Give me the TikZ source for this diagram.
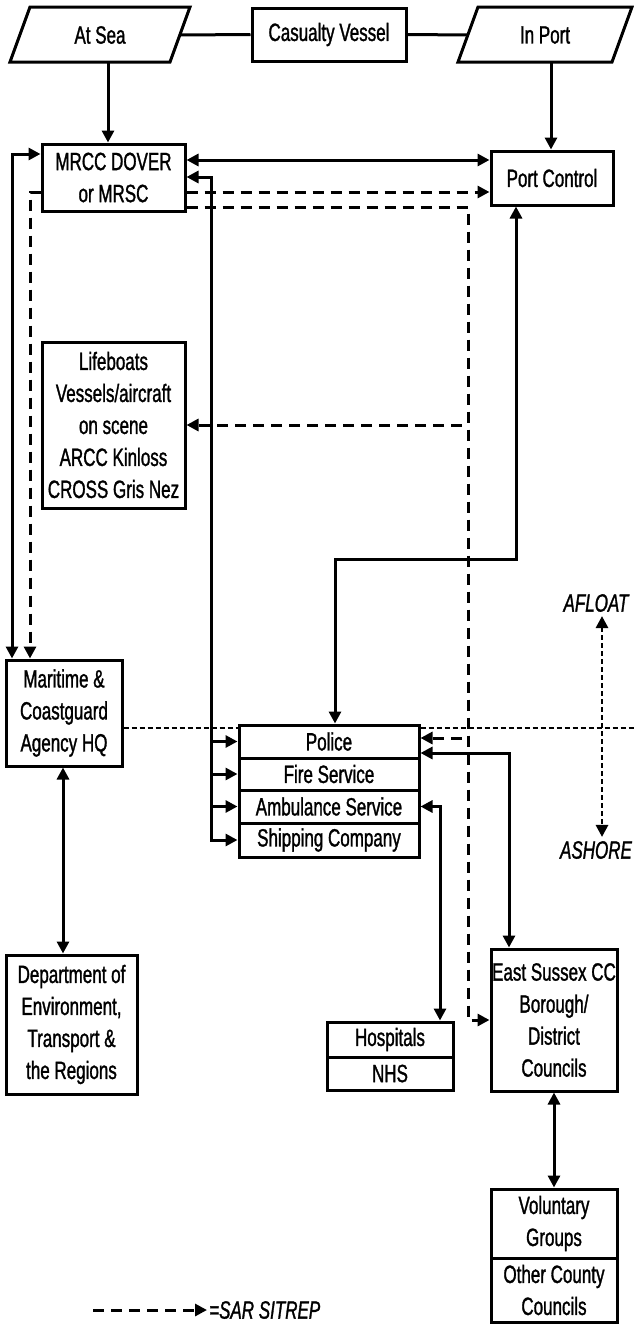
\documentclass[tikz,border=0pt]{standalone}
\usepackage{fontspec}
\setmainfont{Liberation Sans}[FakeStretch=0.68, FakeBold=1.2]
\usetikzlibrary{arrows.meta,calc}
\tikzset{
  Tri/.tip={Triangle[length=12pt,width=12pt]},
  box/.style={draw, line width=3pt, inner sep=0pt, align=center,
    font={\fontsize{25}{32}\selectfont}},
  lbl/.style={inner sep=0pt, align=center, font={\fontsize{25}{32}\selectfont}},
  conn/.style={line width=3pt},
  dsh/.style={line width=3pt, dash pattern=on 11pt off 7pt},
  dotl/.style={line width=2.8pt, dash pattern=on 5pt off 3pt},
}
\begin{document}
\begin{tikzpicture}[x=1pt,y=-1pt]
\useasboundingbox (0,0) rectangle (634,1325);
% parallelograms
\draw[line width=3pt] (30,7) -- (190,7) -- (170,62) -- (10,62) -- cycle;
\draw[line width=3pt] (478,7) -- (632,7) -- (612,62) -- (458,62) -- cycle;
\node[lbl] (atsea) at (100,35) {At Sea};
\node[lbl] (inport) at (545,35) {In Port};
\coordinate (atseaR) at (180,35);
\coordinate (inportL) at (468,35);
\coordinate (atseaB) at (108,62);
\coordinate (inportB) at (551,62);
% boxes
\node[box, minimum width=154pt, minimum height=53pt] (casualty) at (329,34.5) {Casualty Vessel};
\node[box, minimum width=143pt, minimum height=67pt] (mrcc) at (113.5,177.5) {MRCC DOVER\\or MRSC};
\node[box, minimum width=122pt, minimum height=54pt] (port) at (552,178) {Port Control};
\node[box, minimum width=143pt, minimum height=166pt] (life) at (113.5,425) {Lifeboats\\Vessels/aircraft\\on scene\\ARCC Kinloss\\CROSS Gris Nez};
\node[box, minimum width=116pt, minimum height=106pt] (mca) at (64,713) {Maritime \&\\Coastguard\\Agency HQ};
\node[box, minimum width=131pt, minimum height=139pt] (dept) at (71.5,1024.5) {Department of\\Environment,\\Transport \&\\the Regions};
\node[box, minimum width=180pt, minimum height=33pt] (police) at (329,741.5) {Police};
\node[box, minimum width=180pt, minimum height=32pt] (fire) at (329,774) {Fire Service};
\node[box, minimum width=180pt, minimum height=33pt] (amb) at (329,806.5) {Ambulance Service};
\node[box, minimum width=180pt, minimum height=34pt] (ship) at (329,840) {Shipping Company};
\node[box, minimum width=126pt, minimum height=35pt] (hosp) at (390,1039.5) {Hospitals};
\node[box, minimum width=126pt, minimum height=33pt] (nhs) at (390,1073.5) {NHS};
\node[box, minimum width=126pt, minimum height=142pt] (es) at (554,1020) {East Sussex CC\\Borough/\\District\\Councils};
\node[box, minimum width=126pt, minimum height=69pt] (vol) at (554,1223.5) {Voluntary\\Groups};
\node[box, minimum width=126pt, minimum height=64pt] (other) at (554,1290) {Other County\\Councils};
\node[lbl, inner sep=4pt, font={\fontsize{25}{32}\selectfont\itshape}] (afloat) at (596,603) {AFLOAT};
\node[lbl, inner sep=4pt, font={\fontsize{25}{32}\selectfont\itshape}] (ashore) at (596,850) {ASHORE};
\node[lbl, anchor=west, inner sep=2pt, font={\fontsize{25}{32}\selectfont\itshape}] (legtext) at (207,1310) {=SAR SITREP};
\coordinate (lg1) at (93,1310);
% helper coordinates
\coordinate (y154) at (0,154);
\coordinate (y160) at (0,160);
\coordinate (y177) at (0,177);
\coordinate (y192) at (0,192);
\coordinate (y207) at (0,207);
\coordinate (y559) at (0,559);
\coordinate (y728) at (0,728);
\coordinate (y738) at (0,738);
\coordinate (y753) at (0,753);
\coordinate (x12) at (12,0);
\coordinate (x30) at (30,0);
\coordinate (x63) at (63,0);
\coordinate (x211) at (211,0);
\coordinate (x335) at (335,0);
\coordinate (x440) at (440,0);
\coordinate (xD) at (468,0);
\coordinate (x509) at (509,0);
\coordinate (x516) at (516,0);
\coordinate (x602) at (602,0);
\coordinate (xR) at (634,0);
% connectors
\draw[conn] (atseaR) -- (casualty.west);
\draw[conn] (casualty.east) -- (inportL);
\draw[conn,-Tri] (atseaB) -- (atseaB |- mrcc.north);
\draw[conn,-Tri] (inportB) -- (inportB |- port.north);
\draw[conn,Tri-Tri] (mrcc.east |- y160) -- (port.west |- y160);
\draw[dsh,-Tri] (mrcc.east |- y192) -- (port.west |- y192);
\draw[dsh,-Tri] (mrcc.east |- y207) -| (xD |- es.west) -- (es.west);
\draw[dsh,-Tri] ([xshift=-6pt]xD |- life.east) -- (life.east);
\draw[dsh,-Tri] ([xshift=-6pt]xD |- y738) -- (police.east |- y738);
\draw[conn,Tri-Tri] (mrcc.east |- y177) -| (x211 |- ship.west) -- (ship.west);
\draw[conn,-Tri] (x211 |- police.west) -- (police.west);
\draw[conn,-Tri] (x211 |- fire.west) -- (fire.west);
\draw[conn,-Tri] (x211 |- amb.west) -- (amb.west);
\draw[conn,Tri-Tri] (x516 |- port.south) -- (x516 |- y559) -| (x335 |- police.north);
\draw[conn,Tri-Tri] (mrcc.west |- y154) -| (x12 |- mca.north);
\draw[dsh,-Tri] (mrcc.west |- y192) -| (x30 |- mca.north);
\draw[conn,Tri-Tri] (x63 |- mca.south) -- (x63 |- dept.north);
\draw[dotl] (mca.east |- y728) -- (police.west |- y728);
\draw[dotl] (police.east |- y728) -- (xR |- y728);
\draw[dotl,Tri-Tri] (x602 |- afloat.south) -- (x602 |- ashore.north);
\draw[conn,Tri-Tri] (police.east |- y753) -| (x509 |- es.north);
\draw[conn,Tri-Tri] (amb.east) -| (x440 |- hosp.north);
\draw[conn,Tri-Tri] (es.south) -- (vol.north);
\draw[dsh,-Tri] (lg1) -- (legtext.west);
\end{tikzpicture}
\end{document}
